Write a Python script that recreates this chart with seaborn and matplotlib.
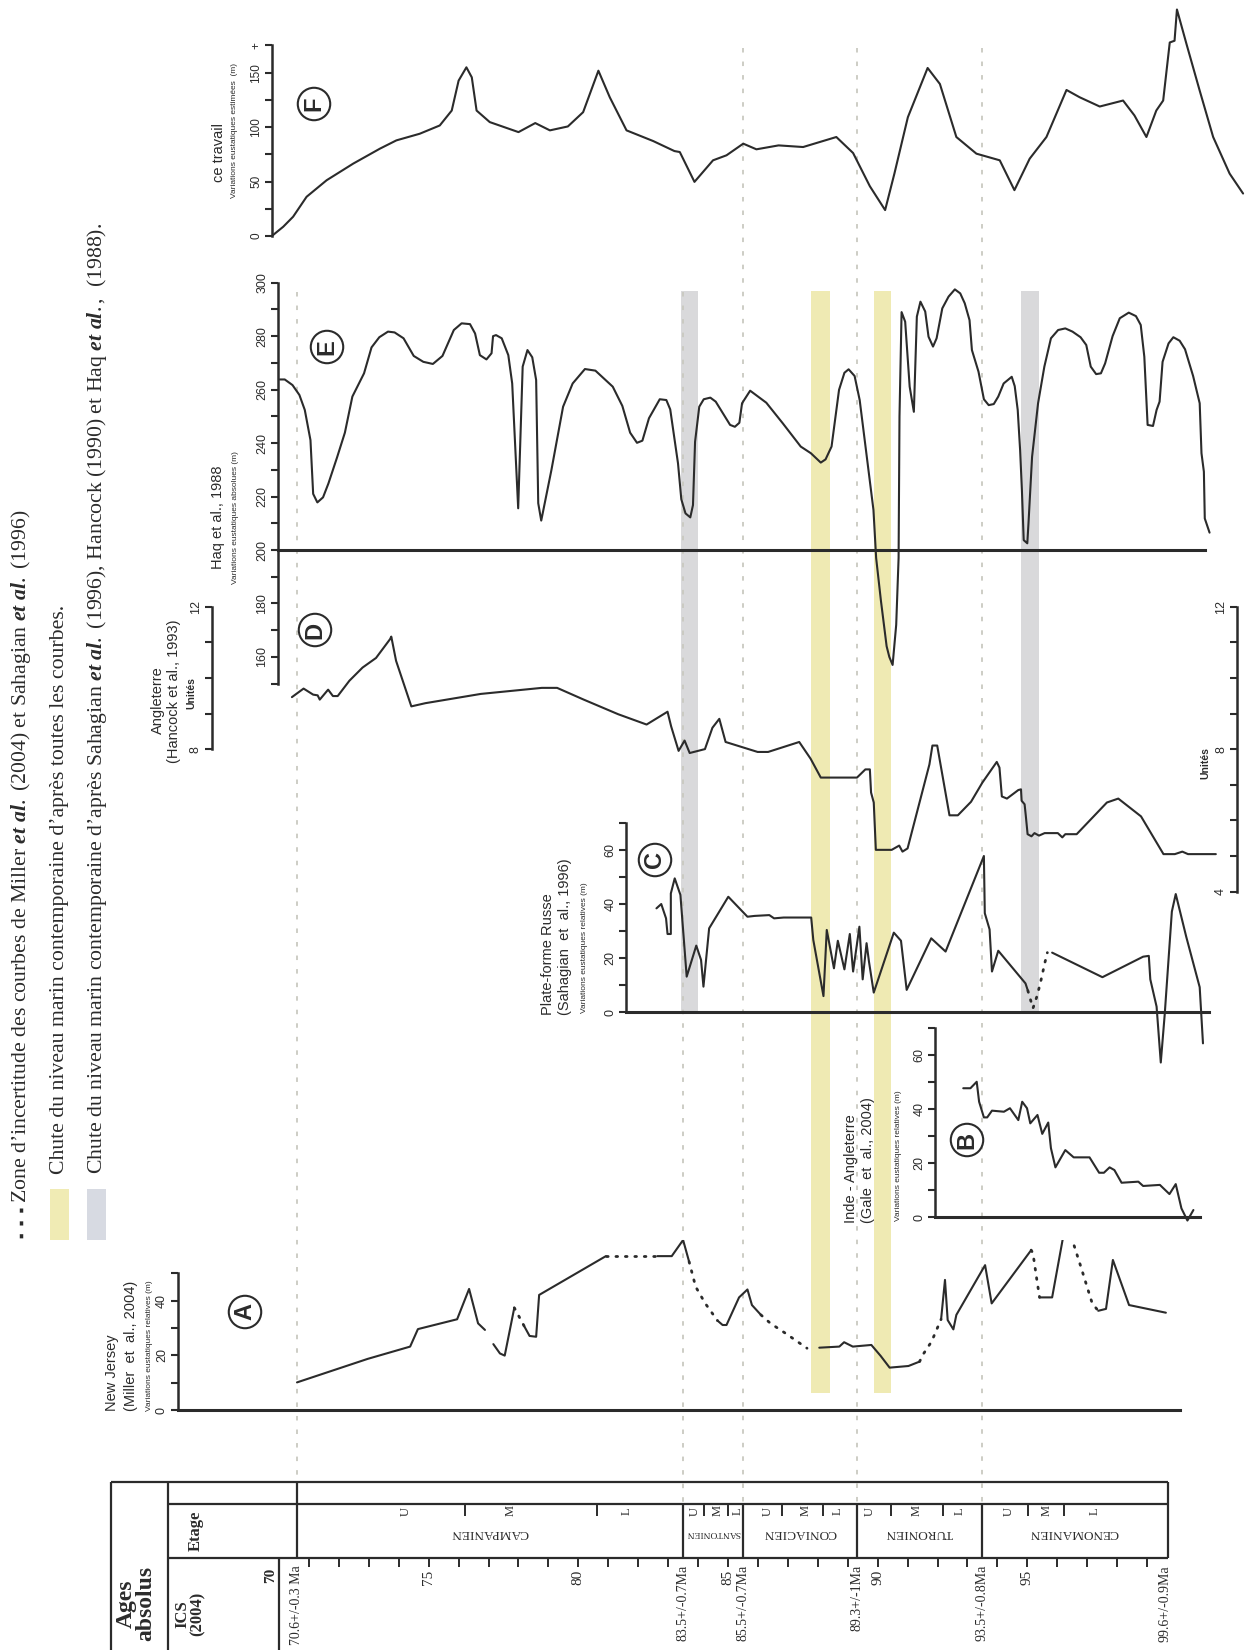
import numpy as np
import pandas as pd
import matplotlib
matplotlib.use('Agg')
import matplotlib.pyplot as plt
from matplotlib.patches import Rectangle
import seaborn as sns

# ---------------------------------------------------------------- données
# F - ce travail (variations eustatiques estimées, m)
F_AGE = [69.76, 70.14, 70.47, 70.92, 71.59, 72.48, 73.37, 73.92, 74.7, 75.37, 75.77, 76.0, 76.26,
         76.44, 76.6, 77.04, 78.0, 78.56, 79.05, 79.65, 80.16, 80.67, 81.05, 81.61, 82.5, 83.21,
         83.39, 83.88, 84.5, 84.95, 85.51, 85.95, 86.69, 87.51, 88.62, 89.18, 89.74, 90.25, 90.56,
         91.01, 91.67, 92.08, 92.63, 93.3, 94.08, 94.57, 95.08, 95.64, 96.31, 96.75, 97.42, 98.2,
         98.58, 98.98, 99.31, 99.54, 99.76, 99.92, 100.0, 100.32, 100.76, 101.21, 101.76, 102.21]
F_VAL = [0, 8.5, 17.7, 36, 51.2, 66.5, 80.2, 87.8, 93.9, 101.5, 115.2, 142.7, 154.9,
         145.7, 115.2, 104.6, 95.4, 103.7, 97, 100.6, 113.7, 151.8, 127.4, 97, 87.2, 78,
         77.1, 49.7, 69.5, 74.1, 84.8, 79.6, 83.2, 81.7, 90.9, 76.2, 45.7, 23.8, 57.3,
         109.1, 154.3, 139.6, 90.9, 75.6, 69.5, 42.1, 71, 90.9, 134.1, 127.4, 118.9, 124.4,
         110.7, 90.9, 115.2, 124.4, 177.7, 179.3, 208, 176.2, 133.5, 90.9, 57.3, 39]

# E - Haq et al., 1988 (variations eustatiques absolues, m)
HAQ_AGE = [70.02, 70.19, 70.45, 70.68, 70.86, 71.05, 71.14, 71.28, 71.47, 71.65, 71.94, 72.2, 72.45,
           72.84, 73.09, 73.35, 73.64, 73.86, 74.16, 74.5, 74.82, 75.14, 75.46, 75.84, 76.1, 76.38,
           76.55, 76.71, 76.93, 77.1, 77.15, 77.25, 77.44, 77.66, 77.79, 77.89, 77.99, 78.14, 78.3,
           78.46, 78.59, 78.66, 78.76, 79.1, 79.49, 79.81, 80.22, 80.57, 81.15, 81.47, 81.73, 81.96,
           82.14, 82.36, 82.72, 82.94, 83.07, 83.33, 83.44, 83.58, 83.74, 83.83, 83.9, 84.04, 84.19,
           84.41, 84.59, 85.07, 85.23, 85.38, 85.47, 85.74, 86.28, 86.83, 87.43, 87.77, 88.1, 88.26,
           88.46, 88.71, 88.89, 89.03, 89.23, 89.4, 89.61, 89.86, 89.95, 90.11, 90.3, 90.39, 90.5,
           90.62, 90.7, 90.73, 90.8, 90.92, 91.07, 91.21, 91.31, 91.43, 91.59, 91.7, 91.85, 91.97,
           92.16, 92.37, 92.58, 92.76, 92.91, 93.07, 93.15, 93.37, 93.55, 93.71, 93.88, 94.03, 94.21,
           94.48, 94.58, 94.68, 94.76, 94.82, 94.88, 95.0, 95.04, 95.16, 95.36, 95.57, 95.79, 96.03,
           96.27, 96.51, 96.78, 96.97, 97.12, 97.3, 97.46, 97.6, 97.85, 98.09, 98.39, 98.63, 98.79,
           98.91, 99.02, 99.2, 99.32, 99.42, 99.52, 99.72, 99.88, 100.09, 100.27, 100.54, 100.76,
           100.82, 100.9, 100.93, 101.09]
HAQ_VAL = [263.8, 263.8, 261.7, 258, 252.4, 241.1, 221, 217.8, 219.7, 224.9, 234.7, 243.9, 257.4,
           266.1, 275.8, 279.6, 281.7, 281.4, 279.2, 272.6, 270.4, 269.6, 272.6, 282.3, 284.8, 284.5,
           281, 272.9, 271.3, 273.6, 280, 280.4, 279.2, 272.9, 262.3, 238.6, 215.6, 268.6, 274.8,
           272.1, 263.6, 217.5, 211, 229.9, 253.6, 262.3, 267.7, 267.1, 261.1, 253.9, 243.9, 240.1,
           240.9, 249.3, 256.4, 256.1, 252.6, 232.4, 219, 213.7, 212.2, 216.8, 240.5, 253.6, 256.4,
           257, 255.5, 246.8, 246.1, 247.6, 254.9, 259.6, 255.1, 247.4, 238.7, 236.2, 232.7, 233.9,
           238.7, 259.9, 266.3, 267.6, 265.1, 256.1, 237.4, 215, 197, 181, 164, 160, 157,
           172, 197, 250, 289, 285.4, 261.1, 251.7, 287.3, 292.9, 289.2, 279.8, 276.1, 279.2,
           290.4, 294.8, 297.5, 296, 292.3, 286, 274.8, 266.7, 256.4, 254.2, 254.6, 257.4, 262.3,
           264.8, 261.3, 252.4, 237.4, 222.4, 203.7, 202.5, 210, 234.9, 254.9, 268.6, 279.2, 282.3,
           282.9, 281.7, 279.6, 276.7, 268.6, 265.8, 266.1, 269.8, 280, 286.7, 288.8, 287.5, 284.2,
           272.3, 246.8, 246.4, 252.4, 255.5, 270.4, 277.3, 279.6, 278.3, 275.1, 265.1, 254.9,
           236.2, 229.3, 211.8, 206.5]

# D - Angleterre (Hancock et al., 1993), unités
ENG_AGE = [70.43, 70.82, 71.14, 71.29, 71.36, 71.64, 71.8, 71.96, 72.35, 72.79, 73.24, 73.71, 73.75,
           73.91, 74.42, 74.89, 76.74, 78.78, 79.29, 80.18, 81.33, 82.28, 82.98, 83.1, 83.35, 83.55,
           83.72, 84.23, 84.48, 84.71, 84.92, 85.99, 86.34, 87.38, 87.76, 88.1, 89.31, 89.59, 89.74,
           89.78, 89.87, 89.94, 90.47, 90.72, 90.83, 91.0, 91.73, 91.83, 91.99, 92.4, 92.68, 93.12,
           93.5, 93.98, 94.07, 94.15, 94.32, 94.7, 94.79, 94.81, 94.91, 94.95, 95.01, 95.14, 95.24,
           95.39, 95.58, 96.02, 96.17, 96.27, 96.65, 97.66, 98.04, 98.8, 99.55, 99.93, 100.18,
           100.37, 101.3]
ENG_VAL = [9.46, 9.70, 9.53, 9.51, 9.39, 9.67, 9.49, 9.49, 9.92, 10.29, 10.56, 11.09, 11.16,
           10.48, 9.2, 9.29, 9.55, 9.72, 9.72, 9.39, 8.98, 8.69, 9.05, 8.64, 7.95, 8.24,
           7.89, 8.0, 8.6, 8.85, 8.2, 7.92, 7.92, 8.2, 7.73, 7.2, 7.2, 7.43, 7.43,
           6.78, 6.5, 5.17, 5.17, 5.29, 5.12, 5.21, 7.57, 8.1, 8.1, 6.14, 6.14, 6.52,
           7.06, 7.64, 7.48, 6.67, 6.61, 6.85, 6.87, 6.55, 6.45, 6.13, 5.61, 5.55, 5.64,
           5.57, 5.64, 5.64, 5.52, 5.61, 5.61, 6.5, 6.61, 6.11, 5.05, 5.05, 5.12,
           5.05, 5.05]

# C - Plate-forme Russe (Sahagian et al., 1996), m
RU_AGE = [82.61, 82.77, 82.93, 82.98, 83.09, 83.09, 83.22, 83.41, 83.62, 83.94, 84.1, 84.18, 84.37,
          85.01, 85.65, 85.89, 86.38, 86.54, 86.86, 87.78, 87.85, 88.19, 88.3, 88.54, 88.67, 88.89,
          89.07, 89.18, 89.39, 89.5, 89.63, 89.71, 89.87, 90.54, 90.78, 90.97, 91.79, 92.27, 93.55,
          93.58, 93.74, 93.82, 94.03, 94.94, 95.02, None,
          95.83, 97.51, 98.87, 99.06, 99.11, 99.32, 99.46, 99.59, 99.83, 99.96, 100.31, 100.76, 100.87]
RU_VAL = [38.5, 40.1, 34.8, 29.0, 29.0, 44.0, 49.6, 43.5, 13.2, 24.7, 19.4, 9.5, 31.1,
          42.8, 35.4, 35.7, 36, 34.8, 35.1, 35.1, 26.8, 6.0, 30.5, 16.3, 26.5, 15.9,
          29.0, 15.1, 31.7, 12.2, 25.6, 18.8, 7.3, 29.5, 26.5, 8.3, 27.4, 22.5, 57.9,
          36.7, 30.7, 15.1, 22.8, 10.7, 8.0, None,
          22.1, 13.0, 20.6, 20.9, 12.2, 2.1, -18.6, -1.0, 37.3, 43.8, 28.0, 9.3, -11.5]
RU_DOT_AGE = [95.02, 95.19, 95.31, 95.43, 95.59, 95.67]
RU_DOT_VAL = [8.0, 1.5, 5.5, 10.5, 18.5, 22.1]

# B - Inde - Angleterre (Gale et al., 2004), m
GALE_AGE = [92.86, 93.1, 93.31, 93.39, 93.55, 93.66, 93.82, 94.22, 94.42, 94.7, 94.83, 94.99, 95.1,
            95.34, 95.5, 95.7, 95.79, 95.94, 96.27, 96.55, 97.08, 97.4, 97.56, 97.75, 97.91, 98.15,
            98.71, 98.87, 99.43, 99.75, 99.96, 100.15, 100.35, 100.55]
GALE_VAL = [47.8, 47.8, 50.2, 42.8, 37.0, 37.0, 39.5, 39.1, 40.4, 36.0, 42.8, 40.4, 34.8,
            37.9, 30.9, 35.1, 25.6, 18.5, 24.9, 22.2, 22.2, 16.5, 16.5, 18.5, 17.5, 12.8,
            13.2, 11.6, 12.0, 8.6, 12.3, 3.3, -1.2, 2.7]

# A - New Jersey (Miller et al., 2004), m
NJ_AGE = [70.6, 72.96, 74.38, 74.64, 75.95, 76.35, 76.65, 76.88, None,
          77.16, 77.38, 77.54, 77.86, None,
          78.2, 78.37, 78.59, 78.69, 80.92, None,
          82.64, 83.12, 83.5, 83.7, None,
          84.65, 84.82, 84.95, 85.37, 85.65, 85.8, 86.1, None,
          88.05, 88.72, 88.88, 89.17, 89.79, 90.1, 90.4, 91.03, 91.4, None,
          92.12, 92.25, 92.34, 92.53, 92.63, 93.59, 93.81, 95.13, None,
          95.41, 95.83, 96.28, 96.47, None,
          97.37, 97.63, 97.86, 98.4, 99.63]
NJ_VAL = [10.1, 18.7, 23.2, 29.6, 33.2, 44.3, 31.7, 29.3, None,
          24.1, 20.7, 19.9, 37.4, None,
          30.5, 27.1, 26.8, 42.1, 56.3, None,
          56.3, 56.3, 62.2, 54.3, None,
          32.7, 31.1, 31.1, 41.2, 44.1, 38.4, 34.8, None,
          22.8, 23.2, 24.8, 23.2, 23.8, 19.8, 15.5, 16.1, 17.7, None,
          33.2, 47.6, 32.9, 29.5, 34.8, 53.0, 39.0, 58.5, None,
          41.2, 41.2, 68.3, 63.4, None,
          36.3, 37.0, 54.9, 38.4, 35.6]
NJ_DOT_AGE = [77.86, 78.2, None, 80.92, 82.64, None, 83.7, 83.92, 84.24, 84.65, None,
              86.1, 86.42, 86.93, 87.64, None, 91.4, 91.54, 91.8, 92.12, None,
              95.13, 95.19, 95.32, 95.41, None, 96.47, 96.79, 97.17, 97.37]
NJ_DOT_VAL = [37.4, 30.5, None, 56.3, 56.3, None, 54.3, 45.1, 39.0, 32.7, None,
              34.8, 31.7, 28.0, 22.6, None, 17.7, 20.7, 25.0, 33.2, None,
              58.5, 57.3, 47.6, 41.2, None, 63.4, 52.4, 39.0, 36.3]

# chutes du niveau marin (bandes)
YELLOW_BANDS = [(87.78, 88.4), (89.87, 90.45)]
GREY_BANDS = [(83.42, 84.0), (94.79, 95.38)]

# échelle chronostratigraphique
STAGES = ['CAMPANIEN', 'SANTONIEN', 'CONIACIEN', 'TURONIEN', 'CENOMANIEN']
STAGE_BASES = [70.6, 83.5, 85.5, 89.3, 93.5, 99.6]
STAGE_LABELS = ['70.6+/-0.3 Ma', '83.5+/-0.7Ma', '85.5+/-0.7Ma', '89.3+/-1Ma',
                '93.5+/-0.8Ma', '99.6+/-0.9Ma']
SUB_DIVS = [76.2, 80.64, 84.2, 85.0, 86.81, 88.17, 90.46, 92.17, 95.03, 96.24]
SUB_POS = [74.24, 77.75, 81.6, 83.89, 84.66, 85.33, 86.33, 87.6, 88.68,
           89.73, 91.31, 92.74, 94.39, 95.66, 97.25]
SUB_NAMES = ['U', 'M', 'L'] * 5
AGE_TICKS = list(range(71, 100))
AGE_MAJOR = [75, 80, 85, 90, 95]

# ---------------------------------------------------------------- mise en page
W, H = 1246, 1650
PX_MA = 29.93          # px par Ma, 70.6 Ma à x = 297 px


def age_at(px):
    return 70.6 + (px - 297) / PX_MA


X_LIM = (age_at(0), age_at(W))
INK = '#2b2b2b'
YELLOW = '#EFEAB3'
GREY = '#D9D9DB'
DOTC = '#C9C9C0'

sns.set_theme(style='ticks')
plt.rcParams['font.family'] = ['Liberation Sans', 'DejaVu Sans']
plt.rcParams['mathtext.fontset'] = 'custom'
plt.rcParams['mathtext.rm'] = 'Liberation Serif'
plt.rcParams['mathtext.it'] = 'Liberation Serif:italic:bold'

fig = plt.figure(figsize=(W / 100, H / 100), dpi=100)
fig.patch.set_facecolor('white')

ax_bg = fig.add_axes([0, 0, 1, 1])
ax_bg.set_xlim(*X_LIM)
ax_bg.set_ylim(H, 0)
ax_bg.axis('off')


def ftext(x, y, s, **kw):
    kw.setdefault('color', INK)
    fig.text(x / W, 1 - y / H, s, **kw)


def panel(top, bot, ref_px, ref_val, ppu):
    ax = fig.add_axes([0, 1 - bot / H, 1, (bot - top) / H])
    ax.patch.set_alpha(0)
    for s in ax.spines.values():
        s.set_visible(False)
    ax._lims = (X_LIM, (ref_val - (bot - ref_px) / ppu, ref_val + (ref_px - top) / ppu))
    return ax


def finish(ax):
    ax.set_xlim(*ax._lims[0])
    ax.set_ylim(*ax._lims[1])
    ax.set_xticks([])
    ax.set_xlabel('')
    ax.set_ylabel('')


def y_axis(ax, at, lo, hi, major, minor, labels=None, size=9):
    sp = ax.spines['left']
    sp.set_visible(True)
    sp.set_position(('data', at))
    sp.set_bounds(lo, hi)
    sp.set_linewidth(1.8)
    sp.set_color(INK)
    ax.yaxis.set_ticks_position('left')
    ax.set_yticks(major)
    ax.set_yticklabels(labels if labels else [str(m) for m in major])
    ax.set_yticks(minor, minor=True)
    ax.tick_params(axis='y', which='both', direction='out', length=5, width=1.5,
                   color=INK, labelsize=size, labelcolor=INK, pad=2)
    plt.setp(ax.get_yticklabels(), rotation=90, va='center')


def baseline(ax, val, a0, a1):
    sp = ax.spines['bottom']
    sp.set_visible(True)
    sp.set_position(('data', val))
    sp.set_bounds(a0, a1)
    sp.set_linewidth(2.2)
    sp.set_color(INK)


def curve(ax, ages, vals, dotted=False):
    df = pd.DataFrame({'age': ages, 'val': vals}, dtype=float)
    df['seg'] = df['age'].isna().cumsum()
    df = df.dropna()
    if dotted:
        kw = dict(linestyle=(0, (0.6, 2.8)), linewidth=2.0, dash_capstyle='round')
    else:
        kw = dict(linewidth=1.5)
    sns.lineplot(data=df, x='age', y='val', units='seg', estimator=None, sort=False,
                 color=INK, ax=ax, legend=False, **kw)


def circled(x, y, s):
    ftext(x, y, s, rotation=90, ha='center', va='center', fontsize=17, fontweight='bold',
          bbox=dict(boxstyle='circle,pad=0.2', fc='none', ec=INK, lw=1.5))


# ---------------------------------------------------------------- bandes + pointillés
for a0, a1 in YELLOW_BANDS:
    ax_bg.axvspan(a0, a1, ymin=1 - 1393 / H, ymax=1 - 291 / H, color=YELLOW, lw=0)
for a0, a1 in GREY_BANDS:
    ax_bg.axvspan(a0, a1, ymin=1 - 1013 / H, ymax=1 - 291 / H, color=GREY, lw=0)
for age in STAGE_BASES[:5]:
    top = 48 if age > 84 else 292
    bot = 1482 if age < 71 else 1504
    ax_bg.vlines(age, top, bot, color=DOTC, lw=1.3, linestyles=(0, (2.5, 5)))

# ---------------------------------------------------------------- F
axF = panel(0, 262, 236, 0, 1.089)
curve(axF, F_AGE, F_VAL)
finish(axF)
y_axis(axF, 69.76, 0, 175, [0, 50, 100, 150, 175], [25, 75, 125],
       labels=['0', '50', '100', '150', '+'], size=8.5)
ftext(219, 153, 'ce travail', rotation=90, ha='center', va='center', fontsize=10.5)
ftext(234, 131, 'Variations eustatiques estimées  (m)', rotation=90, ha='center',
      va='center', fontsize=6)
circled(314, 104, 'F')

# ---------------------------------------------------------------- E
axE = panel(262, 700, 550, 200, 2.673)
curve(axE, HAQ_AGE, HAQ_VAL)
finish(axE)
y_axis(axE, 69.97, 150, 300, list(range(160, 301, 20)), list(range(150, 300, 20)))
baseline(axE, 200, 69.97, 100.95)
ftext(218, 517, 'Haq et al., 1988', rotation=90, ha='center', va='center', fontsize=10.5)
ftext(235.5, 518, 'Variations eustatiques absolues (m)', rotation=90, ha='center',
      va='center', fontsize=6)
circled(327, 347, 'E')

# ---------------------------------------------------------------- D
axD = panel(560, 920, 606.7, 12, 35.6)
curve(axD, ENG_AGE, ENG_VAL)
finish(axD)
y_axis(axD, 67.75, 8, 12, [8, 12], [9, 10, 11])
axD2 = panel(560, 920, 606.7, 12, 35.6)
finish(axD2)
y_axis(axD2, 102.0, 4, 12, [4, 8, 12], [5, 6, 7, 9, 10, 11])
ftext(158, 700, 'Angleterre', rotation=90, ha='center', va='center', fontsize=10.5)
ftext(174, 691, '(Hancock et al., 1993)', rotation=90, ha='center', va='center', fontsize=10.5)
ftext(191.5, 693, 'Unités', rotation=90, ha='center', va='center', fontsize=7.5,
      fontweight='bold')
ftext(1205, 763, 'Unités', rotation=90, ha='center', va='center', fontsize=7.5,
      fontweight='bold')
circled(315, 630, 'D')

# ---------------------------------------------------------------- C
axC = panel(800, 1080, 1012.3, 0, 2.7)
curve(axC, RU_AGE, RU_VAL)
curve(axC, RU_DOT_AGE, RU_DOT_VAL, dotted=True)
finish(axC)
y_axis(axC, 81.6, 0, 70, [0, 20, 40, 60], [10, 30, 50, 70])
baseline(axC, 0, 81.6, 101.06)
ftext(548, 1015, 'Plate-forme Russe', rotation=90, ha='center', va='bottom', fontsize=10.5)
ftext(565, 1015, '(Sahagian  et  al., 1996)', rotation=90, ha='center', va='bottom',
      fontsize=10.5)
ftext(584, 1013, 'Variations eustatiques relatives (m)', rotation=90, ha='center',
      va='bottom', fontsize=6)
circled(655, 860, 'C')

# ---------------------------------------------------------------- B
axB = panel(1000, 1250, 1217.3, 0, 2.7)
curve(axB, GALE_AGE, GALE_VAL)
finish(axB)
y_axis(axB, 91.93, 0, 70, [0, 20, 40, 60], [10, 30, 50, 70])
baseline(axB, 0, 91.93, 100.76)
ftext(851, 1223, 'Inde - Angleterre', rotation=90, ha='center', va='bottom', fontsize=10.5)
ftext(868, 1223, '(Gale  et  al., 2004)', rotation=90, ha='center', va='bottom',
      fontsize=10.5)
ftext(899, 1221, 'Variations eustatiques relatives (m)', rotation=90, ha='center',
      va='bottom', fontsize=6)
circled(967, 1140, 'B')

# ---------------------------------------------------------------- A
axA = panel(1240, 1440, 1410, 0, 2.733)
curve(axA, NJ_AGE, NJ_VAL)
curve(axA, NJ_DOT_AGE, NJ_DOT_VAL, dotted=True)
finish(axA)
y_axis(axA, 66.61, 0, 50, [0, 20, 40], [10, 30, 50])
baseline(axA, 0, 66.61, 100.1)
ftext(112, 1411, 'New Jersey', rotation=90, ha='center', va='bottom', fontsize=10.5)
ftext(131, 1411, '(Miller  et  al., 2004)', rotation=90, ha='center', va='bottom',
      fontsize=10.5)
ftext(149.5, 1411, 'Variations eustatiques relatives (m)', rotation=90, ha='center',
      va='bottom', fontsize=6)
circled(245, 1312, 'A')

# ---------------------------------------------------------------- tableau
T_L, T_C, T_R = 110.5, 168.4, 1168.2
T_TOP, T_ROW2, T_ROW3, T_BOT = 1482, 1504, 1558, 1650
lkw = dict(color=INK, lw=1.6)
ax_bg.hlines(T_TOP, age_at(T_L), age_at(T_R), **lkw)
ax_bg.hlines([T_ROW2, T_ROW3], age_at(T_C), age_at(T_R), **lkw)
ax_bg.vlines([age_at(T_L), age_at(T_C)], T_TOP, T_BOT, **lkw)
ax_bg.vlines([70.6, age_at(T_R)], T_TOP, T_ROW3, **lkw)
ax_bg.vlines(STAGE_BASES[1:5], T_ROW2, T_ROW3, **lkw)
ax_bg.vlines(70, T_ROW3, T_BOT, **lkw)
ax_bg.vlines(AGE_TICKS, T_ROW3, T_ROW3 + 9, color=INK, lw=1.4)
ax_bg.vlines(SUB_DIVS, T_ROW2, T_ROW2 + 12, color=INK, lw=1.4)

serif = 'Liberation Serif'
for age in AGE_MAJOR:
    ax_bg.text(age, T_ROW3 + 12, str(age), rotation=90, ha='center', va='top',
               fontsize=11, family=serif, color=INK)
ax_bg.text(70 - 0.05, T_ROW3 + 10, '70', rotation=90, ha='right', va='top',
           fontsize=11, family=serif, fontweight='bold', color=INK)
for age, lab in zip(STAGE_BASES, STAGE_LABELS):
    ax_bg.text(age, T_ROW3 + 7, lab, rotation=90, ha='center', va='top',
               fontsize=10, family=serif, color=INK)
for a0, a1, name in zip(STAGE_BASES[:-1], STAGE_BASES[1:], STAGES):
    ax_bg.text((a0 + a1) / 2, 1533, name, rotation=180, ha='center', va='center',
               fontsize=6.8 if name == 'SANTONIEN' else 9.5, family=serif, color=INK)
for age, name in zip(SUB_POS, SUB_NAMES):
    ax_bg.text(age, 1511, name, rotation=90, ha='center', va='center',
               fontsize=9, family=serif, color=INK)

ftext(136, 1566, 'Ages\nabsolus', rotation=90, ha='center', va='top', fontsize=17,
      fontweight='bold', family=serif, linespacing=0.95)
ftext(190, 1592, 'ICS\n(2004)', rotation=90, ha='center', va='top', fontsize=12,
      fontweight='bold', family=serif, linespacing=0.95)
ftext(196, 1531, 'Etage', rotation=90, ha='center', va='center', fontsize=12,
      fontweight='bold', family=serif)

# ---------------------------------------------------------------- légende
ax_bg.vlines(age_at(21), 1208, 1242, color=INK, lw=2.5, linestyles=(0, (1.2, 2.5)))
fig.patches.append(Rectangle((50.5 / W, 1 - 1240 / H), 19 / W, 51 / H,
                             transform=fig.transFigure, color='#F0EBB4', lw=0))
fig.patches.append(Rectangle((87 / W, 1 - 1240 / H), 19 / W, 51 / H,
                             transform=fig.transFigure, color='#D7DAE2', lw=0))
leg_kw = dict(rotation=90, ha='center', va='bottom', fontsize=15.7, family=serif)
ftext(21, 1203, r'Zone d’incertitude des courbes de Miller $\mathit{et\ al.}$ (2004) '
      r'et Sahagian $\mathit{et\ al.}$ (1996)', **leg_kw)
ftext(60, 1174, 'Chute du niveau marin contemporaine d’après toutes les courbes.', **leg_kw)
ftext(97, 1174, r'Chute du niveau marin contemporaine d’après Sahagian $\mathit{et\ al.}$ '
      r'(1996), Hancock (1990) et Haq $\mathit{et\ al.}$,  (1988).', **leg_kw)

fig.savefig('out.png', dpi=100)
